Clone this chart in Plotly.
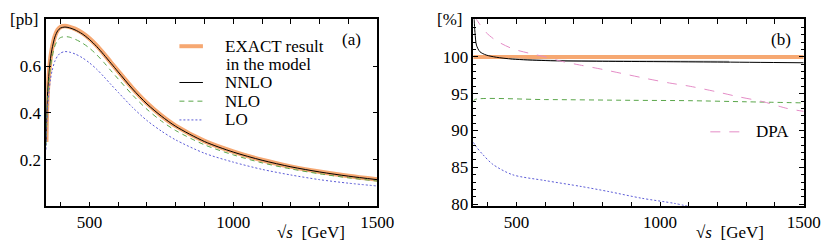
import plotly.graph_objects as go

# ---------------- data: panel (a), cross section [pb] ----------------
s_a = [350, 352, 355, 360, 365, 370, 380, 390, 400, 415, 430, 450, 475, 500, 525,
       550, 575, 600, 650, 700, 750, 800, 900, 1000, 1100, 1200, 1300, 1400, 1500]
exact = [0.275, 0.40, 0.49, 0.575, 0.635, 0.675, 0.728, 0.755, 0.767, 0.771, 0.768,
         0.759, 0.742, 0.718, 0.688, 0.653, 0.615, 0.578, 0.505, 0.441, 0.388, 0.344,
         0.279, 0.234, 0.198, 0.170, 0.148, 0.130, 0.115]
nnlo = [0.275, 0.40, 0.49, 0.574, 0.633, 0.672, 0.724, 0.751, 0.763, 0.767, 0.764,
        0.755, 0.738, 0.714, 0.684, 0.649, 0.612, 0.575, 0.502, 0.438, 0.386, 0.342,
        0.277, 0.232, 0.197, 0.169, 0.147, 0.129, 0.114]
nlo = [0.26, 0.375, 0.46, 0.54, 0.598, 0.636, 0.686, 0.711, 0.722, 0.726, 0.724,
       0.715, 0.699, 0.677, 0.649, 0.616, 0.580, 0.545, 0.476, 0.415, 0.365, 0.324,
       0.263, 0.220, 0.186, 0.160, 0.139, 0.122, 0.108]
lo = [0.243, 0.35, 0.425, 0.495, 0.545, 0.578, 0.621, 0.644, 0.656, 0.662, 0.660,
      0.652, 0.636, 0.614, 0.587, 0.555, 0.521, 0.488, 0.423, 0.367, 0.322, 0.284,
      0.227, 0.189, 0.158, 0.134, 0.114, 0.099, 0.087]

# ---------------- data: panel (b), ratio to EXACT [%] ----------------
s_exact_b = [350, 1500]
exact_b = [100, 100]

s_nnlo_b = [350, 353, 356, 361, 373, 395, 430, 487, 600, 800, 1000, 1200, 1500]
nnlo_b = [108, 105, 103.3, 101.6, 100.7, 100.25, 99.95, 99.7, 99.5, 99.4, 99.35, 99.3, 99.2]

s_gray_b = [480, 600, 800, 1000, 1240]
gray_b = [99.75, 99.55, 99.45, 99.4, 99.36]

s_nlo_b = [350, 355, 600, 900, 1100, 1300, 1500]
nlo_b = [93.9, 94.2, 94.2, 94.1, 94.05, 93.9, 93.75]

s_lo_b = [350, 360, 384, 418, 486, 600, 725, 822, 936, 1050, 1110]
lo_b = [88.4, 87.8, 86.7, 85.4, 84.0, 83.2, 82.4, 81.7, 80.8, 80.1, 79.6]

s_dpa_b = [356, 361, 395, 430, 487, 544, 600, 657, 720, 800, 873, 953, 1033,
           1105, 1192, 1271, 1360, 1442, 1500]
dpa_b = [105.5, 105.1, 103.3, 102.2, 101.1, 100.5, 100.0, 99.4, 98.9, 98.3, 97.7,
         97.05, 96.45, 96.0, 95.3, 94.6, 93.9, 93.0, 92.6]

x_ticks = list(range(400, 1501, 100))
x_text = [str(v) if v in (500, 1000, 1500) else "" for v in x_ticks]

ORANGE = "#f6a872"
GREEN = "#5aa64a"
BLUE = "#5b5bd6"
PINK = "#e48cc6"
FONT = "Liberation Serif, Times New Roman, serif"
FS = 17

W, H = 830, 246
def px(x, y):
    return x / W, 1 - y / H

fig = go.Figure()

LINES = dict(
    exact=dict(color=ORANGE, width=4.5),
    nnlo=dict(color="black", width=1),
    nlo=dict(color=GREEN, width=1, dash="5px,4px"),
    lo=dict(color=BLUE, width=1, dash="2px,2px"),
    dpa=dict(color=PINK, width=1, dash="10px,9px"),
)

def sp(style, sm=0.8):
    d = dict(style)
    d.update(shape="spline", smoothing=sm)
    return d

# panel (a)
fig.add_trace(go.Scatter(x=s_a, y=exact, mode="lines", name="EXACT result in the model",
                         line=sp(LINES["exact"]), xaxis="x", yaxis="y", showlegend=False))
fig.add_trace(go.Scatter(x=s_a, y=nnlo, mode="lines", name="NNLO",
                         line=sp(LINES["nnlo"]), xaxis="x", yaxis="y", showlegend=False))
fig.add_trace(go.Scatter(x=s_a, y=nlo, mode="lines", name="NLO",
                         line=sp(LINES["nlo"]), xaxis="x", yaxis="y", showlegend=False))
fig.add_trace(go.Scatter(x=s_a, y=lo, mode="lines", name="LO",
                         line=sp(LINES["lo"]), xaxis="x", yaxis="y", showlegend=False))

# panel (b)
fig.add_trace(go.Scatter(x=s_exact_b, y=exact_b, mode="lines", showlegend=False,
                         line=dict(color=ORANGE, width=4), xaxis="x2", yaxis="y2"))
fig.add_trace(go.Scatter(x=s_gray_b, y=gray_b, mode="lines", showlegend=False,
                         line=dict(color="#b8b8b8", width=1.6, shape="spline"), xaxis="x2", yaxis="y2"))
fig.add_trace(go.Scatter(x=s_nnlo_b, y=nnlo_b, mode="lines", showlegend=False,
                         line=sp(LINES["nnlo"]), xaxis="x2", yaxis="y2"))
fig.add_trace(go.Scatter(x=s_nlo_b, y=nlo_b, mode="lines", showlegend=False,
                         line=sp(LINES["nlo"]), xaxis="x2", yaxis="y2"))
fig.add_trace(go.Scatter(x=s_lo_b, y=lo_b, mode="lines", showlegend=False,
                         line=sp(LINES["lo"]), xaxis="x2", yaxis="y2"))
fig.add_trace(go.Scatter(x=s_dpa_b, y=dpa_b, mode="lines", name="DPA", showlegend=False,
                         line=sp(LINES["dpa"]), xaxis="x2", yaxis="y2"))

axis_common = dict(showline=True, linecolor="black", linewidth=1.5, mirror="ticks",
                   ticks="inside", ticklen=5, tickwidth=1.2, tickcolor="black",
                   showgrid=False, zeroline=False,
                   tickfont=dict(family=FONT, size=FS, color="black"))

fig.update_layout(
    width=W, height=H,
    margin=dict(l=0, r=0, t=0, b=0),
    paper_bgcolor="white", plot_bgcolor="white",
    font=dict(family=FONT, size=FS, color="black"),
    xaxis=dict(domain=[0.047, 0.4542], range=[350, 1500], anchor="y",
               tickmode="array", tickvals=x_ticks, ticktext=x_text, **axis_common),
    yaxis=dict(domain=[0.1667, 0.9524], range=[0, 0.8], anchor="x",
               tickmode="array", tickvals=[0.2, 0.4, 0.6], ticktext=["0.2", "0.4", "0.6"],
               **axis_common),
    xaxis2=dict(domain=[0.5723, 0.9787], range=[350, 1500], anchor="y2",
                tickmode="array", tickvals=x_ticks, ticktext=x_text, **axis_common),
    yaxis2=dict(domain=[0.1667, 0.9524], range=[79.7, 105.1], anchor="x2",
                tickmode="array", tickvals=[80, 85, 90, 95, 100],
                minor=dict(dtick=1, ticks="inside", ticklen=3, tickcolor="black"),
                **axis_common),
)

# manual legends: sample line (paper coords) + text
legend_items = [
    ("exact", 175, 199, 39.5, ["EXACT result", "in the model"]),
    ("nnlo", 175, 199, 77.0, ["NNLO"]),
    ("nlo", 175, 199, 96.3, ["NLO"]),
    ("lo", 175, 199, 115.7, ["LO"]),
    ("dpa", 717, 747, 128.0, ["DPA"]),
]
for key, x0, x1, y, texts in legend_items:
    a0, b0 = px(x0, y)
    a1, _ = px(x1, y)
    st = dict(LINES[key])
    if key == "exact":
        st["width"] = 4
    fig.add_shape(type="line", xref="paper", yref="paper", x0=a0, x1=a1, y0=b0, y1=b0,
                  line=st)
    tx = 220 if key != "dpa" else 762
    for i, t in enumerate(texts):
        xx, yy = px(tx + i, y + 19.3 * i)
        fig.add_annotation(text=t, x=xx, y=yy, xref="paper", yref="paper",
                           xanchor="left", yanchor="middle", showarrow=False,
                           font=dict(family=FONT, size=FS, color="black"))

ann = [
    ("[pb]", 16, 12),
    ("[%]", 451, 12),
    ("(a)", 351, 33),
    ("(b)", 789, 33),
    ("√<i>s</i>  [GeV]", 309, 232),
    ("√<i>s</i>  [GeV]", 737, 232),
]
for t, x, y in ann:
    xx, yy = px(x, y)
    fig.add_annotation(text=t, x=xx, y=yy, xref="paper", yref="paper",
                       xanchor="center", yanchor="middle", showarrow=False,
                       font=dict(family=FONT, size=FS, color="black"))

fig.write_html("out.html")
